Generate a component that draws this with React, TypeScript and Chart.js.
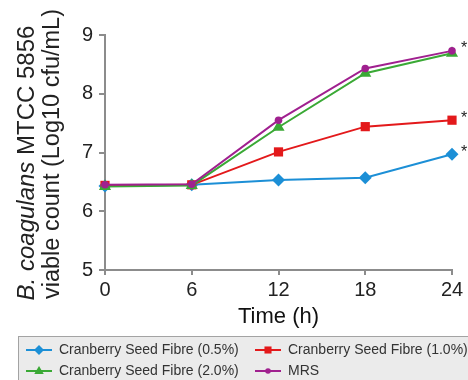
import React, { useEffect, useRef } from 'react';
import { Chart, registerables } from 'chart.js';

Chart.register(...registerables);

// ---- data ----
const hours = [0, 6, 12, 18, 24];
const seriesLabels = [
  'Cranberry Seed Fibre (0.5%)',
  'Cranberry Seed Fibre (1.0%)',
  'Cranberry Seed Fibre (2.0%)',
  'MRS',
];
const csf05 = [6.43, 6.45, 6.53, 6.57, 6.97];
const csf10 = [6.44, 6.45, 7.01, 7.44, 7.55];
const csf20 = [6.42, 6.44, 7.43, 8.35, 8.69];
const mrs = [6.45, 6.46, 7.55, 8.43, 8.73];
const significant = [true, true, false, true];
const xTitle = 'Time (h)';
const yTitleItalic = 'B. coagulans';
const yTitleRest = ' MTCC 5856';
const yTitleLine2 = 'viable count (Log10 cfu/mL)';

const colors = ['#1c8fd6', '#e3191b', '#3aa935', '#a0208f'];
const pointStyles = ['rectRot', 'rect', 'triangle', 'circle'];
const pointRadii = [6.5, 6.5, 7, 3.8];
const drawOrder = [3, 2, 1, 0];
const values = [csf05, csf10, csf20, mrs];

const FONT = '"Liberation Sans", Arial, Helvetica, sans-serif';

function drawMarker(ctx: CanvasRenderingContext2D, style: string, x: number, y: number, r: number, color: string) {
  ctx.save();
  ctx.fillStyle = color;
  ctx.beginPath();
  if (style === 'rectRot') {
    ctx.moveTo(x, y - r);
    ctx.lineTo(x + r, y);
    ctx.lineTo(x, y + r);
    ctx.lineTo(x - r, y);
    ctx.closePath();
  } else if (style === 'rect') {
    const s = r * Math.SQRT1_2;
    ctx.rect(x - s, y - s, 2 * s, 2 * s);
  } else if (style === 'triangle') {
    ctx.moveTo(x, y - r);
    ctx.lineTo(x + r * 0.95, y + r * 0.6);
    ctx.lineTo(x - r * 0.95, y + r * 0.6);
    ctx.closePath();
  } else {
    ctx.arc(x, y, r, 0, Math.PI * 2);
  }
  ctx.fill();
  ctx.restore();
}

const yTitlePlugin = {
  id: 'yTitleTwoLines',
  afterDraw(chart: any) {
    const ctx: CanvasRenderingContext2D = chart.ctx;
    ctx.save();
    ctx.fillStyle = '#222';
    ctx.textBaseline = 'alphabetic';
    ctx.textAlign = 'left';
    // line 1
    ctx.save();
    ctx.translate(34, 163);
    ctx.rotate(-Math.PI / 2);
    ctx.font = `italic 24px ${FONT}`;
    const w1 = ctx.measureText(yTitleItalic).width;
    ctx.font = `24px ${FONT}`;
    const w2 = ctx.measureText(yTitleRest).width;
    const start = -(w1 + w2) / 2;
    ctx.font = `italic 24px ${FONT}`;
    ctx.fillText(yTitleItalic, start, 0);
    ctx.font = `24px ${FONT}`;
    ctx.fillText(yTitleRest, start + w1, 0);
    ctx.restore();
    // line 2
    ctx.save();
    ctx.translate(59, 154);
    ctx.rotate(-Math.PI / 2);
    ctx.font = `23.5px ${FONT}`;
    ctx.textAlign = 'center';
    ctx.fillText(yTitleLine2, 0, 0);
    ctx.restore();
    ctx.restore();
  },
};

const asteriskPlugin = {
  id: 'asterisks',
  afterDatasetsDraw(chart: any) {
    const ctx: CanvasRenderingContext2D = chart.ctx;
    ctx.save();
    ctx.fillStyle = '#222';
    ctx.font = `16px ${FONT}`;
    ctx.textAlign = 'left';
    ctx.textBaseline = 'middle';
    chart.data.datasets.forEach((ds: any, i: number) => {
      if (!significant[i]) return;
      const meta = chart.getDatasetMeta(i);
      const last = meta.data[meta.data.length - 1];
      if (!last) return;
      ctx.fillText('*', last.x + 9, last.y - 2);
    });
    ctx.restore();
  },
};

const legendPlugin = {
  id: 'boxLegend',
  afterDraw(chart: any) {
    const ctx: CanvasRenderingContext2D = chart.ctx;
    ctx.save();
    ctx.fillStyle = '#ebebeb';
    ctx.strokeStyle = '#a3a3a3';
    ctx.lineWidth = 1;
    ctx.fillRect(18.5, 336.5, 460, 50);
    ctx.strokeRect(18.5, 336.5, 460, 50);
    const colX = [26, 255];
    const rowY = [350, 371];
    ctx.font = `14px ${FONT}`;
    ctx.textBaseline = 'middle';
    ctx.textAlign = 'left';
    chart.data.datasets.forEach((ds: any, i: number) => {
      const cx = colX[i % 2];
      const cy = rowY[Math.floor(i / 2)];
      ctx.strokeStyle = colors[i];
      ctx.lineWidth = 2;
      ctx.beginPath();
      ctx.moveTo(cx, cy);
      ctx.lineTo(cx + 26, cy);
      ctx.stroke();
      const r = i === 3 ? 2.8 : 5;
      drawMarker(ctx, pointStyles[i], cx + 13, cy, r, colors[i]);
      ctx.fillStyle = '#333';
      ctx.fillText(ds.label, cx + 33, cy + 0.5);
    });
    ctx.restore();
  },
};

export default function App() {
  const ref = useRef<HTMLCanvasElement | null>(null);

  useEffect(() => {
    document.body.style.margin = '0';
    const canvas = ref.current;
    if (!canvas) return;
    const datasets = values.map((vals, i) => ({
      label: seriesLabels[i],
      data: hours.map((h, j) => ({ x: h, y: vals[j] })),
      borderColor: colors[i],
      backgroundColor: colors[i],
      pointBackgroundColor: colors[i],
      pointBorderColor: colors[i],
      pointStyle: pointStyles[i],
      pointRadius: pointRadii[i],
      pointBorderWidth: 0,
      borderWidth: 2,
      tension: 0,
      clip: false as any,
      order: drawOrder[i],
    }));
    const chart = new Chart(canvas, {
      type: 'line',
      data: { datasets },
      options: {
        animation: false,
        responsive: false,
        maintainAspectRatio: false,
        layout: { padding: { top: 35, right: 16, bottom: 50, left: 0 } },
        plugins: {
          legend: { display: false },
          tooltip: { enabled: false },
        },
        scales: {
          x: {
            type: 'linear',
            min: 0,
            max: 24,
            afterFit: (s: any) => { s.height = 60; },
            afterBuildTicks: (s: any) => { s.ticks = hours.map((v) => ({ value: v })); },
            grid: { display: true, drawOnChartArea: false, drawTicks: true, tickLength: 5, color: '#8c8c8c', lineWidth: 2 },
            border: { display: true, color: '#8c8c8c', width: 2 },
            ticks: { color: '#222', font: { size: 20, family: FONT }, padding: 3, maxRotation: 0 },
            title: { display: true, text: xTitle, color: '#111', font: { size: 22, family: FONT }, padding: 0 },
          },
          y: {
            type: 'linear',
            min: 5,
            max: 9,
            afterFit: (s: any) => { s.width = 105; },
            ticks: { stepSize: 1, color: '#222', font: { size: 20, family: FONT }, padding: 6 },
            grid: { display: true, drawOnChartArea: false, drawTicks: true, tickLength: 6, color: '#8c8c8c', lineWidth: 2 },
            border: { display: true, color: '#8c8c8c', width: 2 },
          },
        },
      },
      plugins: [yTitlePlugin, asteriskPlugin, legendPlugin],
    });
    return () => chart.destroy();
  }, []);

  return (
    <div style={{ width: 468, height: 380, background: '#fff' }}>
      <canvas ref={ref} width={468} height={380} style={{ display: 'block' }} />
    </div>
  );
}
